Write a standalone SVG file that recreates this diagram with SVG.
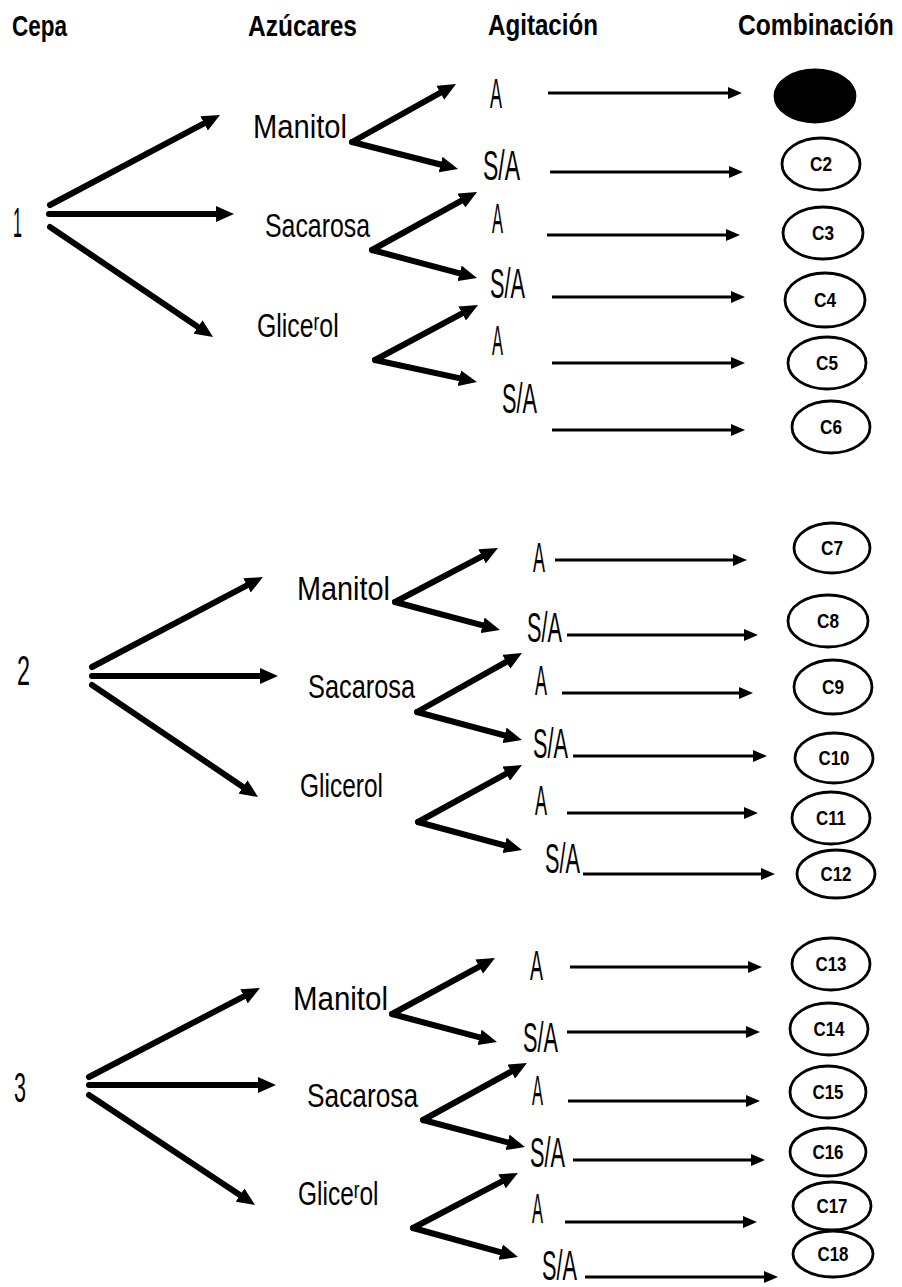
<svg xmlns="http://www.w3.org/2000/svg" width="902" height="1287" viewBox="0 0 902 1287">
<style>
text{font-family:"Liberation Sans Narrow","Liberation Sans",Arial,sans-serif;fill:#000}
.hdr{font-weight:bold;font-size:30px}
.sug{font-size:34px}
.agi{font-size:42px}
.num{font-size:42px}
.cl{font-weight:bold;font-size:20px;text-anchor:middle}
.thick{stroke:#000;stroke-width:6;stroke-linecap:round;fill:none;marker-end:url(#hb)}
.thin{stroke:#000;stroke-width:3;fill:none;marker-end:url(#hs)}
ellipse{fill:#fff;stroke:#000;stroke-width:2.8}
ellipse.fill{fill:#000}
</style>
<defs>
<marker id="hb" markerUnits="userSpaceOnUse" viewBox="0 0 18 16" markerWidth="18" markerHeight="16" refX="8" refY="8" orient="auto"><path d="M0,0 L18,8 L0,16 z" fill="#000"/></marker>
<marker id="hs" markerUnits="userSpaceOnUse" viewBox="0 0 14 12" markerWidth="14" markerHeight="12" refX="6" refY="6" orient="auto"><path d="M0,0 L14,6 L0,12 z" fill="#000"/></marker>
</defs>
<rect width="902" height="1287" fill="#fff"/>

<g id="headers">
<text class="hdr" x="12" y="36" textLength="55" lengthAdjust="spacingAndGlyphs">Cepa</text>
<text class="hdr" x="248" y="36" textLength="109" lengthAdjust="spacingAndGlyphs">Azúcares</text>
<text class="hdr" x="488" y="35" textLength="110" lengthAdjust="spacingAndGlyphs">Agitación</text>
<g transform="translate(738,35) scale(0.82,1)"><text class="hdr" x="0" y="0">Combinación</text></g>
</g>

<g id="connectors">
<!-- section 1 -->
<line class="thick" x1="50" y1="205" x2="211.2" y2="119.7"/>
<line class="thick" x1="49" y1="214" x2="224" y2="214"/>
<line class="thick" x1="50" y1="227" x2="204.7" y2="331.4"/>
<line class="thick" x1="352" y1="142" x2="447.3" y2="88.9"/>
<line class="thick" x1="352" y1="142" x2="448.3" y2="166.5"/>
<line class="thick" x1="372" y1="250" x2="468.3" y2="196.8"/>
<line class="thick" x1="372" y1="250" x2="467.3" y2="275.4"/>
<line class="thick" x1="375" y1="360" x2="469.2" y2="309.7"/>
<line class="thick" x1="375" y1="360" x2="467.2" y2="379.9"/>
<line class="thin" x1="548" y1="93" x2="734" y2="93"/>
<line class="thin" x1="550" y1="172" x2="735" y2="172"/>
<line class="thin" x1="547" y1="235" x2="732" y2="235"/>
<line class="thin" x1="552" y1="297" x2="737" y2="297"/>
<line class="thin" x1="552" y1="363" x2="737" y2="363"/>
<line class="thin" x1="552" y1="430" x2="737" y2="430"/>
<!-- section 2 -->
<line class="thick" x1="92" y1="667" x2="254.1" y2="581.7"/>
<line class="thick" x1="92" y1="676" x2="268" y2="676"/>
<line class="thick" x1="92" y1="685" x2="249.7" y2="791.4"/>
<line class="thick" x1="395" y1="602" x2="489.1" y2="552.6"/>
<line class="thick" x1="395" y1="602" x2="490.3" y2="627.4"/>
<line class="thick" x1="417" y1="712" x2="513.3" y2="657.9"/>
<line class="thick" x1="417" y1="712" x2="512.3" y2="737.4"/>
<line class="thick" x1="418" y1="822" x2="513.2" y2="769.8"/>
<line class="thick" x1="418" y1="822" x2="512.3" y2="847.4"/>
<line class="thin" x1="555" y1="560" x2="739" y2="560"/>
<line class="thin" x1="567" y1="635" x2="750" y2="635"/>
<line class="thin" x1="562" y1="693" x2="745" y2="693"/>
<line class="thin" x1="573" y1="756" x2="759" y2="756"/>
<line class="thin" x1="567" y1="813" x2="750" y2="813"/>
<line class="thin" x1="583" y1="874" x2="767" y2="874"/>
<!-- section 3 -->
<line class="thick" x1="89" y1="1077" x2="251.1" y2="992.6"/>
<line class="thick" x1="89" y1="1085" x2="266" y2="1085"/>
<line class="thick" x1="89" y1="1095" x2="246.7" y2="1199.5"/>
<line class="thick" x1="392" y1="1014" x2="486.2" y2="962.8"/>
<line class="thick" x1="392" y1="1014" x2="487.3" y2="1039.4"/>
<line class="thick" x1="423" y1="1120" x2="518.2" y2="1067.8"/>
<line class="thick" x1="423" y1="1120" x2="515.3" y2="1144.4"/>
<line class="thick" x1="413" y1="1228" x2="509.1" y2="1177.6"/>
<line class="thick" x1="413" y1="1228" x2="508.4" y2="1254.3"/>
<line class="thin" x1="570" y1="967" x2="754" y2="967"/>
<line class="thin" x1="567" y1="1032" x2="752" y2="1032"/>
<line class="thin" x1="568" y1="1101" x2="752" y2="1101"/>
<line class="thin" x1="573" y1="1160" x2="757" y2="1160"/>
<line class="thin" x1="565" y1="1222" x2="749" y2="1222"/>
<line class="thin" x1="585" y1="1277" x2="770" y2="1277"/>
</g>

<!-- Section 1 -->
<g id="cepa1"><text class="num" x="13" y="237" font-size="34" textLength="9" lengthAdjust="spacingAndGlyphs">1</text></g>
<g id="s1-manitol"><text class="sug" x="253" y="138" textLength="94" lengthAdjust="spacingAndGlyphs">Manitol</text></g>
<g id="s1-sacarosa"><text class="sug" x="265" y="237" textLength="105" lengthAdjust="spacingAndGlyphs">Sacarosa</text></g>
<g id="s1-glicerol" transform="translate(257,337) scale(0.73,1)"><text class="sug" x="0" y="0">Glice<tspan font-size="24" baseline-shift="7">r</tspan>ol</text></g>
<g id="s1-a1"><text class="agi" x="490" y="108" textLength="12" lengthAdjust="spacingAndGlyphs">A</text></g>
<g id="s1-sa1"><text class="agi" x="483" y="180" textLength="37" lengthAdjust="spacingAndGlyphs">S/A</text></g>
<g id="s1-a2"><text class="agi" x="492" y="233" textLength="11" lengthAdjust="spacingAndGlyphs">A</text></g>
<g id="s1-sa2"><text class="agi" x="490" y="298" textLength="35" lengthAdjust="spacingAndGlyphs">S/A</text></g>
<g id="s1-a3"><text class="agi" x="492" y="355" textLength="11" lengthAdjust="spacingAndGlyphs">A</text></g>
<g id="s1-sa3"><text class="agi" x="502" y="413" textLength="35" lengthAdjust="spacingAndGlyphs">S/A</text></g>
<g id="c1"><ellipse class="fill" cx="815" cy="96" rx="40" ry="26"/></g>
<g id="c2"><ellipse cx="821" cy="164" rx="39" ry="26"/><text class="cl" x="821" y="171" textLength="22" lengthAdjust="spacingAndGlyphs">C2</text></g>
<g id="c3"><ellipse cx="823" cy="233" rx="40" ry="26"/><text class="cl" x="823" y="240" textLength="22" lengthAdjust="spacingAndGlyphs">C3</text></g>
<g id="c4"><ellipse cx="825" cy="300" rx="40" ry="27"/><text class="cl" x="825" y="307" textLength="22" lengthAdjust="spacingAndGlyphs">C4</text></g>
<g id="c5"><ellipse cx="827" cy="363" rx="39" ry="26"/><text class="cl" x="827" y="370" textLength="22" lengthAdjust="spacingAndGlyphs">C5</text></g>
<g id="c6"><ellipse cx="831" cy="427" rx="39" ry="26"/><text class="cl" x="831" y="434" textLength="22" lengthAdjust="spacingAndGlyphs">C6</text></g>

<!-- Section 2 -->
<g id="cepa2"><text class="num" x="17" y="685" textLength="13" lengthAdjust="spacingAndGlyphs">2</text></g>
<g id="s2-manitol"><text class="sug" x="297" y="600" textLength="93" lengthAdjust="spacingAndGlyphs">Manitol</text></g>
<g id="s2-sacarosa"><text class="sug" x="308" y="698" textLength="107" lengthAdjust="spacingAndGlyphs">Sacarosa</text></g>
<g id="s2-glicerol"><text class="sug" x="300" y="797" textLength="83" lengthAdjust="spacingAndGlyphs">Glicerol</text></g>
<g id="s2-a1"><text class="agi" x="533" y="572" textLength="12" lengthAdjust="spacingAndGlyphs">A</text></g>
<g id="s2-sa1"><text class="agi" x="527" y="642" textLength="35" lengthAdjust="spacingAndGlyphs">S/A</text></g>
<g id="s2-a2"><text class="agi" x="535" y="695" textLength="12" lengthAdjust="spacingAndGlyphs">A</text></g>
<g id="s2-sa2"><text class="agi" x="533" y="758" textLength="35" lengthAdjust="spacingAndGlyphs">S/A</text></g>
<g id="s2-a3"><text class="agi" x="535" y="815" textLength="12" lengthAdjust="spacingAndGlyphs">A</text></g>
<g id="s2-sa3"><text class="agi" x="545" y="873" textLength="35" lengthAdjust="spacingAndGlyphs">S/A</text></g>
<g id="c7"><ellipse cx="832" cy="548" rx="38" ry="25"/><text class="cl" x="832" y="555" textLength="22" lengthAdjust="spacingAndGlyphs">C7</text></g>
<g id="c8"><ellipse cx="828" cy="621" rx="40" ry="26"/><text class="cl" x="828" y="628" textLength="22" lengthAdjust="spacingAndGlyphs">C8</text></g>
<g id="c9"><ellipse cx="833" cy="687" rx="39" ry="27"/><text class="cl" x="833" y="694" textLength="22" lengthAdjust="spacingAndGlyphs">C9</text></g>
<g id="c10"><ellipse cx="834" cy="758" rx="39" ry="25"/><text class="cl" x="834" y="765" textLength="31" lengthAdjust="spacingAndGlyphs">C10</text></g>
<g id="c11"><ellipse cx="831" cy="818" rx="39" ry="26"/><text class="cl" x="831" y="825" textLength="30" lengthAdjust="spacingAndGlyphs">C11</text></g>
<g id="c12"><ellipse cx="836" cy="874" rx="39" ry="24"/><text class="cl" x="836" y="881" textLength="31" lengthAdjust="spacingAndGlyphs">C12</text></g>

<!-- Section 3 -->
<g id="cepa3"><text class="num" x="14" y="1102" textLength="12" lengthAdjust="spacingAndGlyphs">3</text></g>
<g id="s3-manitol"><text class="sug" x="293" y="1010" textLength="95" lengthAdjust="spacingAndGlyphs">Manitol</text></g>
<g id="s3-sacarosa"><text class="sug" x="307" y="1107" textLength="111" lengthAdjust="spacingAndGlyphs">Sacarosa</text></g>
<g id="s3-glicerol" transform="translate(298,1205) scale(0.72,1)"><text class="sug" x="0" y="0">Glice<tspan font-size="24" baseline-shift="7">r</tspan>ol</text></g>
<g id="s3-a1"><text class="agi" x="530" y="980" textLength="13" lengthAdjust="spacingAndGlyphs">A</text></g>
<g id="s3-sa1"><text class="agi" x="523" y="1052" textLength="35" lengthAdjust="spacingAndGlyphs">S/A</text></g>
<g id="s3-a2"><text class="agi" x="532" y="1105" textLength="11" lengthAdjust="spacingAndGlyphs">A</text></g>
<g id="s3-sa2"><text class="agi" x="530" y="1167" textLength="35" lengthAdjust="spacingAndGlyphs">S/A</text></g>
<g id="s3-a3"><text class="agi" x="532" y="1223" textLength="11" lengthAdjust="spacingAndGlyphs">A</text></g>
<g id="s3-sa3"><text class="agi" x="542" y="1280" font-size="38" textLength="35" lengthAdjust="spacingAndGlyphs">S/A</text></g>
<g id="c13"><ellipse cx="831" cy="964" rx="39" ry="26"/><text class="cl" x="831" y="971" textLength="31" lengthAdjust="spacingAndGlyphs">C13</text></g>
<g id="c14"><ellipse cx="829" cy="1029" rx="39" ry="26"/><text class="cl" x="829" y="1036" textLength="31" lengthAdjust="spacingAndGlyphs">C14</text></g>
<g id="c15"><ellipse cx="828" cy="1092" rx="38" ry="26"/><text class="cl" x="828" y="1099" textLength="31" lengthAdjust="spacingAndGlyphs">C15</text></g>
<g id="c16"><ellipse cx="828" cy="1152" rx="38" ry="24"/><text class="cl" x="828" y="1159" textLength="31" lengthAdjust="spacingAndGlyphs">C16</text></g>
<g id="c17"><ellipse cx="832" cy="1206" rx="39" ry="24"/><text class="cl" x="832" y="1213" textLength="31" lengthAdjust="spacingAndGlyphs">C17</text></g>
<g id="c18"><ellipse cx="833" cy="1254" rx="40" ry="23"/><text class="cl" x="833" y="1261" textLength="31" lengthAdjust="spacingAndGlyphs">C18</text></g>
</svg>
